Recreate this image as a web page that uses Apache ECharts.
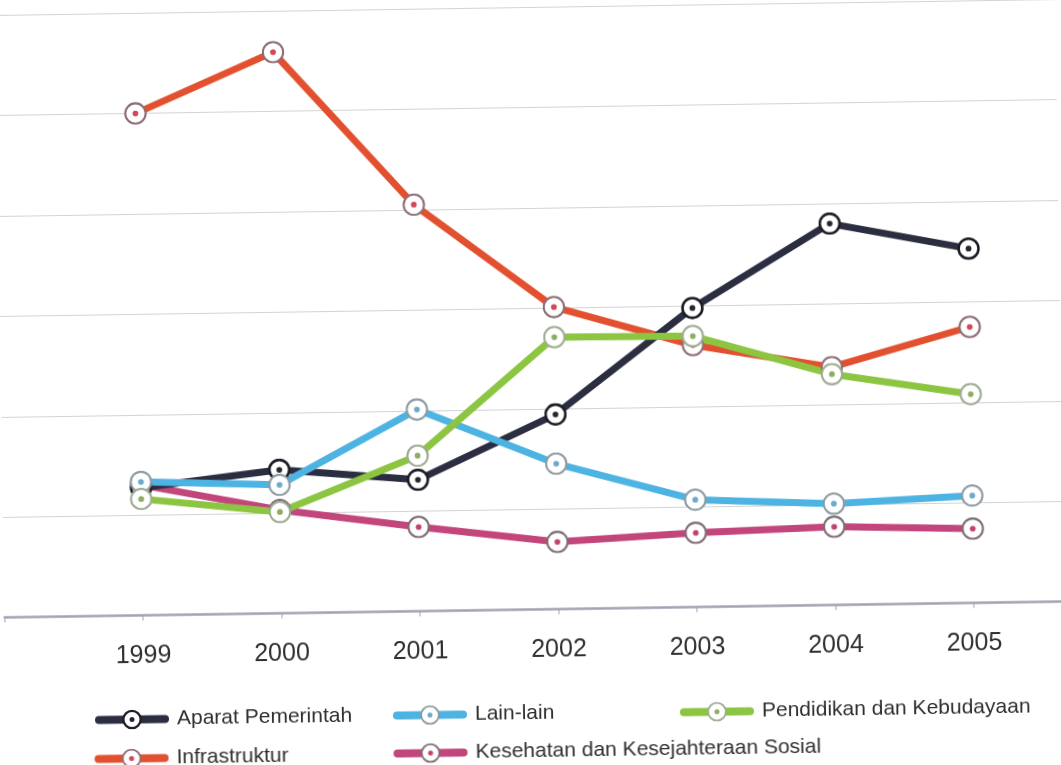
<!DOCTYPE html>
<html>
<head>
<meta charset="utf-8">
<script src="https://cdn.jsdelivr.net/npm/echarts@6/dist/echarts.min.js"></script>
<style>
html,body{margin:0;padding:0;background:#fff;overflow:hidden;}
#chart{width:1061px;height:765px;transform:rotate(-0.86deg);transform-origin:530px 382px;}
</style>
</head>
<body>
<div id="chart"></div>
<script>
// ---- data (y values in grid units, no y labels shown) ----
const years = ['1999','2000','2001','2002','2003','2004','2005'];
const aparatPemerintah = [1.27, 1.43, 1.31, 1.94, 2.98, 3.80, 3.53];
const lainLain        = [1.33, 1.28, 2.01, 1.45, 1.07, 1.01, 1.07];
const pendidikan      = [1.16, 1.01, 1.55, 2.71, 2.70, 2.30, 2.08];
const infrastruktur   = [5.00, 5.59, 4.05, 3.01, 2.61, 2.37, 2.75];
const kesehatan       = [1.30, 1.03, 0.84, 0.67, 0.74, 0.78, 0.74];
const seriesNames = ['Aparat Pemerintah','Lain-lain','Pendidikan dan Kebudayaan','Infrastruktur','Kesehatan dan Kesejahteraan Sosial'];

function marker(ring, dot, rw) {
  const svg = '<svg xmlns="http://www.w3.org/2000/svg" width="44" height="44" viewBox="0 0 44 44">' +
    '<circle cx="22" cy="22" r="' + (21.5 - rw/2) + '" fill="#ffffff" stroke="' + ring + '" stroke-width="' + rw + '"/>' +
    '<circle cx="22" cy="22" r="5.5" fill="' + dot + '"/></svg>';
  return 'image://data:image/svg+xml;charset=utf-8,' + encodeURIComponent(svg);
}
function pts(arr) { return years.map((y, i) => [Number(y), arr[i]]); }

const styles = {
  'Aparat Pemerintah': {line:'#2b2d40', sym: marker('#1c1c24', '#26262e', 5)},
  'Lain-lain': {line:'#4db3e2', sym: marker('#8d9aa2', '#6fa9c9', 4)},
  'Pendidikan dan Kebudayaan': {line:'#8cc541', sym: marker('#9fac93', '#8ead63', 4)},
  'Infrastruktur': {line:'#e3502f', sym: marker('#8e6e74', '#d2485a', 4)},
  'Kesehatan dan Kesejahteraan Sosial': {line:'#c2457b', sym: marker('#7e6c73', '#c2436f', 4)}
};
const values = {
  'Aparat Pemerintah': aparatPemerintah,
  'Lain-lain': lainLain,
  'Pendidikan dan Kebudayaan': pendidikan,
  'Infrastruktur': infrastruktur,
  'Kesehatan dan Kesejahteraan Sosial': kesehatan
};
// drawing order (later = on top)
const drawOrder = ['Kesehatan dan Kesejahteraan Sosial','Infrastruktur','Aparat Pemerintah','Lain-lain','Pendidikan dan Kebudayaan'];

const series = drawOrder.map(name => ({
  name: name,
  type: 'line',
  data: pts(values[name]),
  symbol: styles[name].sym,
  symbolSize: 23,
  showSymbol: true,
  clip: false,
  lineStyle: {color: styles[name].line, width: 7, cap: 'round', join: 'round'},
  itemStyle: {color: styles[name].line},
  emphasis: {disabled: true}
}));

const legendPos = {
  'Aparat Pemerintah': [90, 703],
  'Lain-lain': [388, 703],
  'Pendidikan dan Kebudayaan': [675, 704],
  'Infrastruktur': [89, 742],
  'Kesehatan dan Kesejahteraan Sosial': [388, 741]
};
const legends = seriesNames.map(name => ({
  data: [name],
  left: legendPos[name][0],
  top: legendPos[name][1],
  padding: 0,
  itemWidth: 66,
  itemHeight: 25,
  selectedMode: false,
  lineStyle: {width: 8, cap: 'round'},
  textStyle: {fontFamily: 'Liberation Sans, Arial, sans-serif', fontSize: 21, color: '#2f2f2f', padding: [0, 0, 0, 7]}
}));

const chart = echarts.init(document.getElementById('chart'), null, {renderer: 'canvas'});
chart.setOption({
  animation: false,
  backgroundColor: '#ffffff',
  legend: legends,
  grid: {left: 1, right: -48, top: 7.2, bottom: 155.4, containLabel: false, outerBoundsMode: 'none'},
  xAxis: {
    type: 'value', min: 1998, max: 2006, interval: 1,
    axisLine: {show: true, lineStyle: {color: '#a2a2b2', width: 2.5}},
    axisTick: {show: true, length: 5, lineStyle: {color: '#a2a2b2', width: 1}},
    axisLabel: {
      formatter: v => years.includes(String(v)) ? String(v) : '',
      margin: 28, fontSize: 25, color: '#303030', fontFamily: 'Liberation Sans, Arial, sans-serif'
    },
    splitLine: {show: false}
  },
  yAxis: {
    type: 'value', min: 0, max: 6, interval: 1,
    axisLine: {show: false}, axisTick: {show: false}, axisLabel: {show: false},
    splitLine: {show: true, lineStyle: {color: '#d3d3d3', width: 1}}
  },
  series: series
});
</script>
</body>
</html>
